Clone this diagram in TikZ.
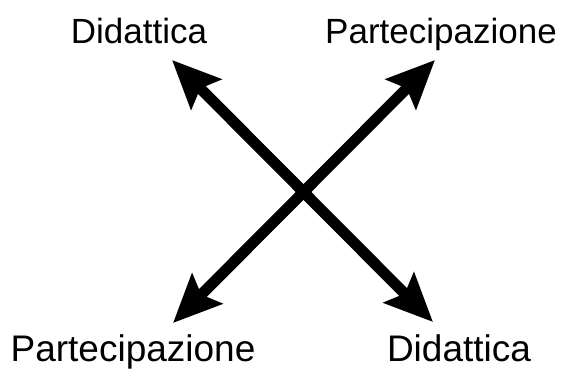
\documentclass[tikz,border=0pt]{standalone}
\usepackage{fontspec}
\setmainfont{Liberation Sans}
\usetikzlibrary{arrows.meta}
\tikzset{
  label/.style={font=\fontsize{35}{40}\selectfont, anchor=base, inner sep=0pt},
  biglabel/.style={label, font=\fontsize{37}{42}\selectfont},
  bigarrow/.style={line width=11pt, {Stealth[length=48pt,width=42pt,inset=8pt]}-{Stealth[length=48pt,width=42pt,inset=8pt]}}
}
\begin{document}
\begin{tikzpicture}[x=1pt,y=-1pt]
  \useasboundingbox (0,0) rectangle (572,369);

  % Labels
  \node[label] (didTop) at (139,44) {Didattica};
  \node[label] (parTop) at (441,44) {Partecipazione};
  \node[biglabel] (parBot) at (133,361) {Partecipazione};
  \node[biglabel] (didBot) at (459,361) {Didattica};

  % Arrow tips
  \coordinate (tl) at (172,60);
  \coordinate (br) at (433,322);
  \coordinate (tr) at (435,60);
  \coordinate (bl) at (173,323);

  % Crossing arrows
  \draw[bigarrow] (tl) -- (br);
  \draw[bigarrow] (tr) -- (bl);
\end{tikzpicture}
\end{document}
